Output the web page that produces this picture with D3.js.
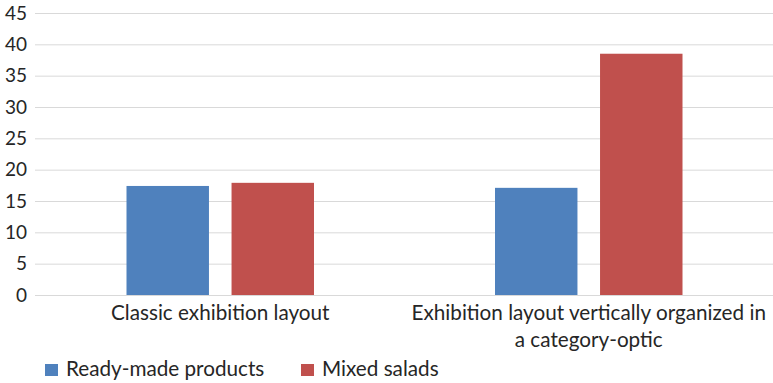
<!DOCTYPE html>
<html>
<head>
<script src="https://d3js.org/d3.v7.min.js"></script>
<style>
  body { margin: 0; background: #fff; }
  text { font-family: Lato, "Open Sans", sans-serif; fill: #262626; }
  .grid line { stroke: #d9d9d9; stroke-width: 1px; }
</style>
</head>
<body>
<svg id="chart" width="773" height="383"></svg>
<script>
// data
const categories = ["Classic exhibition layout", "Exhibition layout vertically organized in a category-optic"];
const categoryLines = [["Classic exhibition layout"], ["Exhibition layout vertically organized in", "a category-optic"]];
const seriesNames = ["Ready-made products", "Mixed salads"];
const readyMade = [17.4, 17.1];
const mixedSalads = [17.9, 38.5];
const yTicks = [0, 5, 10, 15, 20, 25, 30, 35, 40, 45];
const colors = ["#4f81bd", "#c0504d"];

const svg = d3.select("#chart");
const margin = { top: 13, right: 0, bottom: 88, left: 36 };
const width = 773 - margin.left - margin.right;
const height = 383 - margin.top - margin.bottom;
const g = svg.append("g").attr("transform", "translate(" + margin.left + "," + margin.top + ")");

const y = d3.scaleLinear().domain([0, 45]).range([height, 0]);
const x0 = d3.scaleBand().domain(categories).range([0, width]).paddingInner(0).paddingOuter(0);
const x1 = d3.scaleBand().domain(seriesNames).range([90.5, x0.bandwidth() - 90.5]).paddingInner(0.215);

// gridlines
g.append("g").attr("class", "grid")
  .selectAll("line").data(yTicks).join("line")
  .attr("x1", -1).attr("x2", width)
  .attr("y1", d => y(d) + 0.5).attr("y2", d => y(d) + 0.5);

// y tick labels
g.selectAll("text.ytick").data(yTicks).join("text")
  .attr("class", "ytick")
  .attr("x", -9).attr("y", d => y(d))
  .attr("dy", "0.35em")
  .attr("text-anchor", "end")
  .style("font-size", "19px")
  .text(d => d);

// bars
const rows = categories.map((c, i) => ({ cat: c, vals: [readyMade[i], mixedSalads[i]] }));
const groups = g.selectAll("g.cat").data(rows).join("g")
  .attr("class", "cat")
  .attr("transform", d => "translate(" + x0(d.cat) + ",0)");
groups.selectAll("rect").data(d => d.vals.map((v, j) => ({ name: seriesNames[j], v: v, j: j })))
  .join("rect")
  .attr("x", d => x1(d.name))
  .attr("width", x1.bandwidth())
  .attr("y", d => y(d.v))
  .attr("height", d => y(0) - y(d.v))
  .attr("fill", d => colors[d.j]);

// category labels
categories.forEach((c, i) => {
  const t = g.append("text")
    .attr("x", x0(c) + x0.bandwidth() / 2)
    .attr("y", height + 25)
    .attr("text-anchor", "middle")
    .style("font-size", "20.7px");
  categoryLines[i].forEach((line, k) => {
    t.append("tspan").attr("x", x0(c) + x0.bandwidth() / 2).attr("dy", k === 0 ? 0 : 26.7).text(line);
  });
});

// legend
const legendX = [45, 301];
const legend = svg.selectAll("g.legend").data(seriesNames).join("g")
  .attr("class", "legend")
  .attr("transform", (d, i) => "translate(" + legendX[i] + ",364)");
legend.append("rect").attr("width", 13).attr("height", 12).attr("fill", (d, i) => colors[i]);
legend.append("text").attr("x", 21).attr("y", 12)
  .style("font-size", "20.7px").text(d => d);
</script>
</body>
</html>
